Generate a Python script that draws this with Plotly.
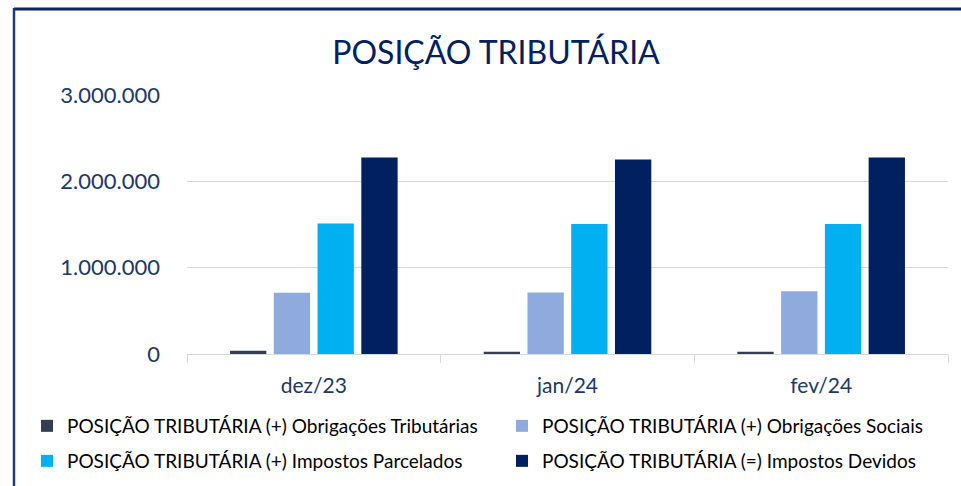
import plotly.graph_objects as go

categories = ["dez/23", "jan/24", "fev/24"]
obrig_tributarias = [39000, 27000, 27000]
obrig_sociais = [709000, 712000, 728000]
impostos_parcelados = [1511000, 1506000, 1506000]
impostos_devidos = [2277000, 2254000, 2277000]

names = [
    "POSIÇÃO TRIBUTÁRIA (+) Obrigações Tributárias",
    "POSIÇÃO TRIBUTÁRIA (+) Obrigações Sociais",
    "POSIÇÃO TRIBUTÁRIA (+) Impostos Parcelados",
    "POSIÇÃO TRIBUTÁRIA (=) Impostos Devidos",
]
colors = ["#333F50", "#8FAADC", "#00B0F0", "#002060"]
series = [obrig_tributarias, obrig_sociais, impostos_parcelados, impostos_devidos]
legends = ["legend", "legend2", "legend3", "legend4"]

W, H = 961, 486
L, R, T, B = 187, 961 - 948, 95, 486 - 354
pw, ph = W - L - R, H - T - B

def px(x):
    return (x - L) / pw

def py(y):
    return (H - B - y) / ph

FONT = "Lato"
fig = go.Figure()
for n, c, s, lg in zip(names, colors, series, legends):
    fig.add_trace(go.Bar(x=categories, y=s, name=n, marker_color=c,
                         marker_line_width=0, legend=lg))

legend_common = dict(orientation="h", itemwidth=30,
                     font=dict(family=FONT, size=19, color="#000000"),
                     bgcolor="rgba(0,0,0,0)", xanchor="left", yanchor="middle")

legend_pos = [(27, 426), (502, 426), (27, 461), (502, 461)]
leg_layout = {}
for lg, (lx, ly) in zip(legends, legend_pos):
    leg_layout[lg] = dict(x=px(lx), y=py(ly), **legend_common)

fig.update_layout(
    width=W, height=H,
    margin=dict(l=L, r=R, t=T, b=B, autoexpand=False),
    paper_bgcolor="white", plot_bgcolor="white",
    separators=",.",
    barmode="group", bargap=0.31, bargroupgap=0.17,
    title=dict(text="POSIÇÃO TRIBUTÁRIA", x=496 / W, xanchor="center",
               y=1 - 53 / H, yanchor="middle",
               font=dict(family=FONT, size=32, color="#002060")),
    showlegend=True,
    xaxis=dict(showline=True, linecolor="#D9D9D9", linewidth=1,
               ticks="outside", tickson="boundaries", ticklen=8, tickcolor="#D9D9D9",
               tickfont=dict(family=FONT, size=21, color="#203864"),
               ticklabelstandoff=13, showgrid=False),
    yaxis=dict(range=[0, 3000000], dtick=1000000, tickformat=",d",
               showgrid=True, gridcolor="#D9D9D9", gridwidth=1,
               zeroline=False, showline=False, ticks="",
               tickfont=dict(family=FONT, size=22, color="#203864"),
               ticklabelstandoff=26),
    shapes=[
        dict(type="line", xref="paper", yref="paper",
             x0=px(14), x1=px(975), y0=py(9), y1=py(9),
             line=dict(color="#0B2366", width=3)),
        dict(type="line", xref="paper", yref="paper",
             x0=px(14), x1=px(14), y0=py(8), y1=py(500),
             line=dict(color="#1F3A7A", width=2.5)),
    ],
    **leg_layout,
)

fig.write_html(
    "out.html",
    config={"displayModeBar": False},
    post_script="document.body.style.margin='0';document.body.style.overflow='hidden';",
)
